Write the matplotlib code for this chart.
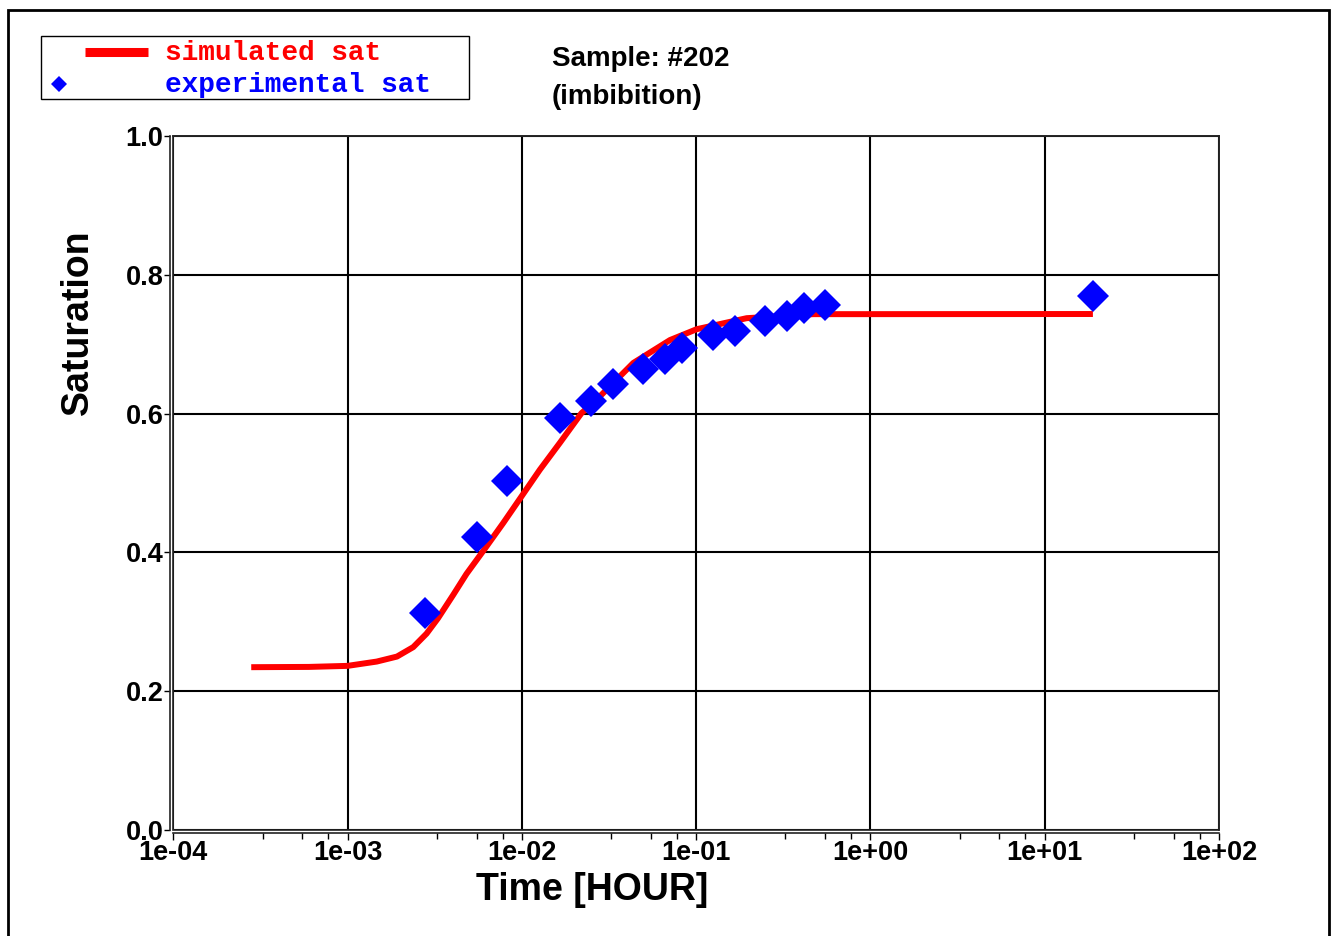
import matplotlib
matplotlib.use("Agg")
import matplotlib.pyplot as plt
from matplotlib.patches import Rectangle
from matplotlib.lines import Line2D
from matplotlib.ticker import FixedLocator, FixedFormatter

# simulated saturation curve
sim_time = [2.8e-4, 6.0e-4, 1.0e-3, 1.47e-3, 1.92e-3, 2.38e-3, 2.84e-3, 3.3e-3,
            4.04e-3, 4.81e-3, 6.12e-3, 7.8e-3, 9.95e-3, 1.268e-2, 1.648e-2,
            2.198e-2, 2.57e-2, 4.36e-2, 7.08e-2, 1.007e-1, 1.95e-1, 4.69e-1,
            8.69e-1, 18.9]
sim_sat = [0.2346, 0.2350, 0.2365, 0.2427, 0.2499, 0.2635, 0.2830, 0.3050,
           0.3389, 0.3690, 0.4050, 0.4420, 0.4806, 0.5191, 0.5575,
           0.6007, 0.6153, 0.6730, 0.7060, 0.7216, 0.7375, 0.7433,
           0.7433, 0.7435]

# experimental points
exp_time = [2.79e-3, 5.53e-3, 8.26e-3, 1.664e-2, 2.49e-2, 3.32e-2, 4.98e-2,
            6.62e-2, 8.26e-2, 1.245e-1, 1.667e-1, 2.477e-1, 3.33e-1, 4.15e-1,
            5.48e-1, 18.9]
exp_sat = [0.3125, 0.4229, 0.5032, 0.5937, 0.6186, 0.6427, 0.6643,
           0.6787, 0.6946, 0.7138, 0.7185, 0.7329, 0.7412, 0.7523,
           0.7570, 0.7700]

x_ticks = [1e-4, 1e-3, 1e-2, 1e-1, 1e0, 1e1, 1e2]
x_labels = ["1e-04", "1e-03", "1e-02", "1e-01", "1e+00", "1e+01", "1e+02"]
y_ticks = [0.0, 0.2, 0.4, 0.6, 0.8, 1.0]
y_labels = ["0.0", "0.2", "0.4", "0.6", "0.8", "1.0"]

W, H = 1335, 936
plt.rcParams["font.family"] = ["Liberation Sans", "DejaVu Sans"]
plt.rcParams["font.weight"] = "bold"

fig = plt.figure(figsize=(W / 100, H / 100), dpi=100)


def fx(x):
    return x / W


def fy(y):
    return 1 - y / H


ax = fig.add_axes([fx(173.3), fy(830), (1219 - 173.3) / W, (830 - 136) / H])
ax.set_xscale("log")
ax.set_xlim(1e-4, 1e2)
ax.set_ylim(0, 1)

ax.plot(sim_time, sim_sat, color="red", lw=4.3, zorder=3, solid_capstyle="butt",
        solid_joinstyle="round")
ax.plot(exp_time, exp_sat, ls="none", marker="D", ms=15.9, mew=0,
        color="blue", zorder=4)

ax.xaxis.set_major_locator(FixedLocator(x_ticks))
ax.xaxis.set_major_formatter(FixedFormatter(x_labels))
minor = [d * m for d in x_ticks[:-1] for m in (3.25, 5.5, 7.75)]
ax.xaxis.set_minor_locator(FixedLocator(minor))
ax.xaxis.set_minor_formatter(FixedFormatter([""] * len(minor)))
ax.set_yticks(y_ticks)
ax.set_yticklabels(y_labels)

ax.grid(True, which="major", color="black", lw=1.5, zorder=1)
ax.tick_params(axis="x", which="major", length=5, width=1, pad=0,
               labelsize=19.5, direction="out")
ax.tick_params(axis="x", which="minor", length=4, width=1, direction="out")
ax.tick_params(axis="y", length=4, width=1, pad=1, labelsize=19.5,
               direction="out")
for lab in ax.get_xticklabels() + ax.get_yticklabels():
    lab.set_fontweight("bold")

# double-line frame look
ax.spines["left"].set_position(("outward", 2.2))
ax.spines["bottom"].set_position(("outward", 2.2))
for s in ax.spines.values():
    s.set_linewidth(1.2)
    s.set_color("#222222")
ax.add_patch(Rectangle((0, 0), 1, 1, transform=ax.transAxes, fill=False,
                       lw=1.2, ec="#222222", clip_on=False, zorder=5))

# axis labels
fig.text(fx(592), fy(900), "Time [HOUR]", fontsize=27, fontweight="bold",
         ha="center", va="baseline")
fig.text(fx(88), fy(322.5), "Saturation", fontsize=27, fontweight="bold",
         rotation=90, rotation_mode="anchor", ha="center", va="baseline")

# title block
fig.text(fx(552), fy(65.5), "Sample: #202", fontsize=20, fontweight="bold",
         va="baseline")
fig.text(fx(552), fy(104.5), "(imbibition)", fontsize=20, fontweight="bold",
         va="baseline")

# legend box
fig.add_artist(Rectangle((fx(40.7), fy(98.7)), (469 - 40.7) / W,
                         (98.7 - 35.7) / H, transform=fig.transFigure,
                         fill=False, ec="black", lw=1))
fig.add_artist(Line2D([fx(85), fx(148)], [fy(51.7), fy(51.7)],
                      transform=fig.transFigure, color="red", lw=6.5,
                      solid_capstyle="butt"))
fig.add_artist(Line2D([fx(59)], [fy(84)], transform=fig.transFigure,
                      marker="D", ms=8.5, mew=0, color="blue", ls="none"))
fig.text(fx(165), fy(60), "simulated sat", fontsize=20, fontweight="bold",
         color="red", family="Liberation Mono", va="baseline")
fig.text(fx(165), fy(91.7), "experimental sat", fontsize=20,
         fontweight="bold", color="blue", family="Liberation Mono",
         va="baseline")

# outer border
fig.add_artist(Rectangle((fx(8), -0.1), (1329 - 8) / W, 1.1 - 10.5 / H,
                         transform=fig.transFigure, fill=False, ec="black",
                         lw=2))

fig.savefig("out.png", dpi=100)
